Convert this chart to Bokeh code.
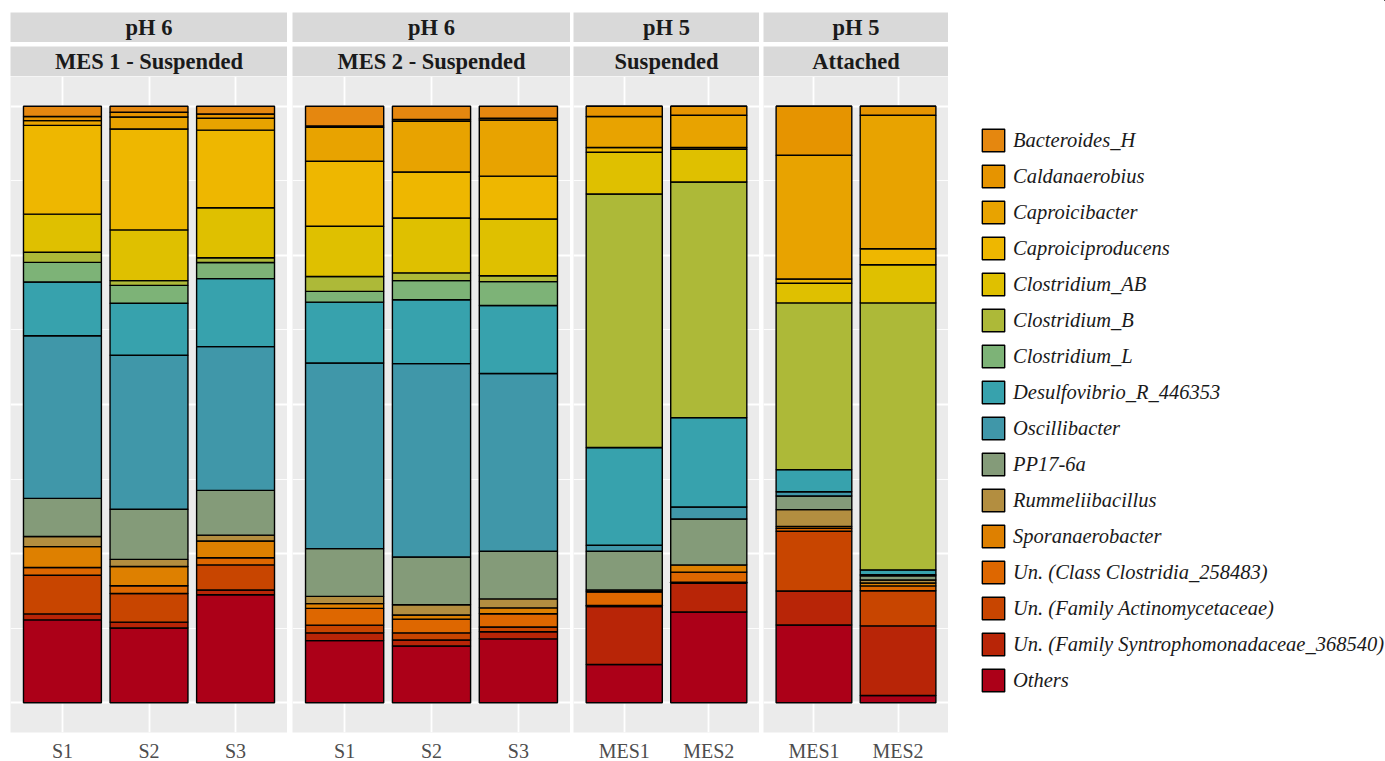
from bokeh.plotting import figure
from bokeh.layouts import row, column
from bokeh.models import (Range1d, FixedTicker, Spacer, Legend, LegendItem,
                          ColumnDataSource, Grid)
from bokeh.embed import file_html
from bokeh.resources import INLINE
from bokeh.core.properties import value

# ---------------- data ----------------
TAXA = ["Bacteroides_H", "Caldanaerobius", "Caproicibacter", "Caproiciproducens",
        "Clostridium_AB", "Clostridium_B", "Clostridium_L", "Desulfovibrio_R_446353",
        "Oscillibacter", "PP17-6a", "Rummeliibacillus", "Sporanaerobacter",
        "Un. (Class Clostridia_258483)", "Un. (Family Actinomycetaceae)",
        "Un. (Family Syntrophomonadaceae_368540)", "Others"]

COLORS = ["#E5870F", "#E69400", "#E8A300", "#EEB700", "#DFC000", "#ADB938",
          "#7DB377", "#37A2AD", "#4097A9", "#849B79", "#B38E40", "#DE8000",
          "#DE6700", "#C84500", "#B82507", "#AC0018"]

# relative abundance (%) per sample, in TAXA order
ph6_mes1_S1 = [1.7, 0.7, 0.8, 14.9, 6.4, 1.7, 3.3, 9.0, 27.3, 6.4, 1.7, 3.5, 1.3, 6.5, 1.0, 13.9]
ph6_mes1_S2 = [1.0, 0.8, 2.0, 16.9, 8.5, 0.8, 3.0, 8.7, 25.8, 8.4, 1.2, 3.2, 1.3, 4.8, 1.0, 12.5]
ph6_mes1_S3 = [1.3, 0.7, 2.0, 13.0, 8.4, 0.8, 2.7, 11.4, 24.1, 7.5, 1.0, 2.8, 1.2, 4.2, 0.8, 18.1]
ph6_mes2_S1 = [3.3, 0.2, 5.7, 10.9, 8.4, 2.5, 1.8, 10.2, 31.1, 8.0, 1.2, 0.8, 2.8, 1.3, 1.3, 10.4]
ph6_mes2_S2 = [2.2, 0.3, 8.5, 7.7, 9.2, 1.3, 3.2, 10.7, 32.4, 8.0, 1.7, 0.7, 2.3, 1.2, 1.0, 9.5]
ph6_mes2_S3 = [2.0, 0.3, 9.4, 7.2, 9.5, 1.0, 4.0, 11.4, 29.8, 8.0, 1.5, 1.0, 2.2, 0.8, 1.2, 10.7]
ph5_susp_MES1 = [0.0, 1.7, 5.2, 0.8, 7.0, 42.5, 0.0, 16.4, 1.0, 6.5, 0.3, 0.0, 2.3, 0.2, 9.7, 6.4]
ph5_susp_MES2 = [0.0, 1.5, 5.4, 0.3, 5.5, 39.5, 0.0, 15.0, 2.0, 7.7, 0.0, 1.2, 1.7, 0.2, 4.8, 15.2]
ph5_att_MES1 = [0.0, 8.2, 20.7, 0.7, 3.3, 27.9, 0.0, 3.7, 0.7, 2.3, 2.8, 0.3, 0.5, 10.0, 5.7, 13.0]
ph5_att_MES2 = [0.0, 1.5, 22.4, 2.7, 6.4, 44.8, 0.0, 0.8, 0.2, 0.7, 0.5, 0.5, 0.8, 5.9, 11.7, 1.2]

STRIP_TOP = ["pH 6", "pH 6", "pH 5", "pH 5"]
STRIP_BOTTOM = ["MES 1 - Suspended", "MES 2 - Suspended", "Suspended", "Attached"]
SAMPLES = [["S1", "S2", "S3"], ["S1", "S2", "S3"], ["MES1", "MES2"], ["MES1", "MES2"]]
VALUES = [[ph6_mes1_S1, ph6_mes1_S2, ph6_mes1_S3],
          [ph6_mes2_S1, ph6_mes2_S2, ph6_mes2_S3],
          [ph5_susp_MES1, ph5_susp_MES2],
          [ph5_att_MES1, ph5_att_MES2]]

# ---------------- styling / layout ----------------
SERIF = "Liberation Serif"
PANEL_W = [277, 278, 186, 185]
GAPS = [5, 3, 4]
FRAME_H = 656
STRIP_H = 30
TOP_PAD = 12
KEYS = ["t%d" % i for i in range(len(TAXA))]


def strip_fig(text, width):
    s = figure(width=width, height=STRIP_H, x_range=Range1d(0, 1), y_range=Range1d(0, 1),
               x_axis_type=None, y_axis_type=None, toolbar_location=None,
               output_backend="svg", min_border=0,
               background_fill_color="#D9D9D9", border_fill_color="#D9D9D9",
               outline_line_color=None)
    s.text(x=[0.5], y=[0.5], text=[text], text_align="center", text_baseline="middle",
           text_font=value(SERIF), text_font_style="bold", text_font_size="22.5px",
           text_color="#1A1A1A")
    return s


def panel_fig(samples, values, width):
    n = len(samples)
    p = figure(frame_width=width, frame_height=FRAME_H,
               x_range=Range1d(0.4, n + 0.6), y_range=Range1d(-0.05, 1.05),
               y_axis_type=None, toolbar_location=None, output_backend="svg",
               min_border_left=0, min_border_right=0, min_border_top=0, min_border_bottom=0,
               background_fill_color="#EBEBEB", border_fill_color="white",
               outline_line_color=None)
    data = {"x": list(range(1, n + 1))}
    for k, key in enumerate(KEYS):
        data[key] = [v[k] / sum(v) for v in values]
    src = ColumnDataSource(data)
    p.vbar_stack(KEYS[::-1], x="x", width=0.9, source=src, fill_color=COLORS[::-1],
                 line_color="black", line_width=1.4)
    p.xaxis.ticker = FixedTicker(ticks=list(range(1, n + 1)))
    p.xaxis.major_label_overrides = {i + 1: s for i, s in enumerate(samples)}
    p.xaxis.axis_line_color = None
    p.xaxis.major_tick_line_color = None
    p.xaxis.minor_tick_line_color = None
    p.xaxis.major_tick_out = 0
    p.xaxis.major_tick_in = 0
    p.xaxis.major_label_standoff = 7
    p.xaxis.major_label_text_font = SERIF
    p.xaxis.major_label_text_font_size = "20px"
    p.xaxis.major_label_text_color = "#4D4D4D"
    p.xgrid.grid_line_color = "white"
    p.xgrid.grid_line_width = 1.8
    p.add_layout(Grid(dimension=1,
                      ticker=FixedTicker(ticks=[0, 0.25, 0.5, 0.75, 1.0],
                                         minor_ticks=[0.125, 0.375, 0.625, 0.875]),
                      grid_line_color="white", grid_line_width=1.8,
                      minor_grid_line_color="white", minor_grid_line_width=0.9))
    return p


cols = []
for i in range(4):
    c = column(Spacer(height=TOP_PAD),
               strip_fig(STRIP_TOP[i], PANEL_W[i]),
               Spacer(height=4),
               strip_fig(STRIP_BOTTOM[i], PANEL_W[i]),
               panel_fig(SAMPLES[i], VALUES[i], PANEL_W[i]))
    cols.append(c)

# legend figure
LEG_W, LEG_H = 437, 760
lf = figure(width=LEG_W, height=LEG_H, x_axis_type=None, y_axis_type=None,
            toolbar_location=None, output_backend="svg", min_border=0,
            outline_line_color=None, x_range=Range1d(0, 1), y_range=Range1d(0, 1))
items = []
for t, c in zip(TAXA, COLORS):
    # placeholder glyph outside the visible range, only used for the legend key
    r = lf.vbar(x=[5.0], top=[5.0], bottom=[4.0], width=0.1, fill_color=c,
                line_color="black", line_width=1.4)
    items.append(LegendItem(label=t, renderers=[r]))
legend = Legend(items=items, location=(31, LEG_H - 126 - 568), glyph_width=28,
                glyph_height=28, label_height=28, spacing=8, padding=0, margin=0,
                label_standoff=6, border_line_color=None, background_fill_alpha=0,
                label_text_font=SERIF, label_text_font_style="italic",
                label_text_font_size="20.5px", label_text_color="#1A1A1A")
lf.add_layout(legend)

layout = row(Spacer(width=10), cols[0], Spacer(width=GAPS[0]), cols[1],
             Spacer(width=GAPS[1]), cols[2], Spacer(width=GAPS[2]), cols[3], lf)

open("out.html", "w").write(file_html(layout, INLINE))
